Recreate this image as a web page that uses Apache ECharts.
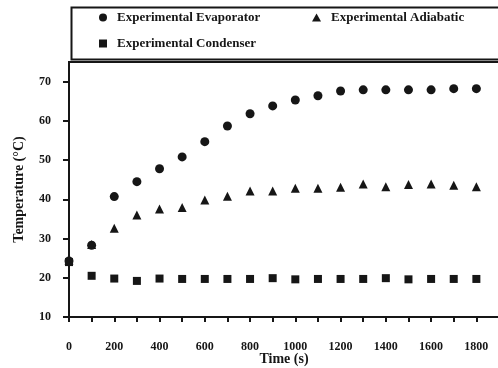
<!DOCTYPE html>
<html>
<head>
<meta charset="utf-8">
<script src="https://cdn.jsdelivr.net/npm/echarts@6/dist/echarts.min.js"></script>
<style>html,body{margin:0;padding:0;background:#fff}#c{width:498px;height:368px}</style>
</head>
<body>
<div id="c"></div>
<script>
var times = [0,100,200,300,400,500,600,700,800,900,1000,1100,1200,1300,1400,1500,1600,1700,1800];
var evaporator = [24.3,28.3,40.7,44.5,47.8,50.8,54.7,58.7,61.8,63.8,65.3,66.4,67.6,67.9,67.9,67.9,67.9,68.2,68.2];
var adiabatic = [24.5,28.5,32.6,36.0,37.5,37.9,39.8,40.8,42.1,42.1,42.8,42.8,43.1,43.9,43.2,43.8,43.9,43.6,43.2];
var condenser = [24.0,20.5,19.8,19.2,19.8,19.7,19.7,19.7,19.7,19.9,19.6,19.7,19.7,19.7,19.9,19.6,19.7,19.7,19.7];
var xTickValues = [0,100,200,300,400,500,600,700,800,900,1000,1100,1200,1300,1400,1500,1600,1700,1800];
var xLabelValues = [0,200,400,600,800,1000,1200,1400,1600,1800];
var yTickValues = [10,20,30,40,50,60,70];
var seriesNames = ['Experimental Evaporator','Experimental Adiabatic','Experimental Condenser'];

function pairs(v){ return times.map(function(t,i){ return [t, v[i]]; }); }

var font = '"Liberation Serif", "Times New Roman", serif';
var ink = '#161616';
var legendText = {fontFamily: font, fontWeight: 'bold', fontSize: 13, color: ink, padding: [0,0,0,5]};
var markStyle = {color: ink, opacity: 1, borderWidth: 0};

var chart = echarts.init(document.getElementById('c'), null, {renderer: 'canvas'});
chart.setOption({
  backgroundColor: '#fff',
  animation: false,
  graphic: [{
    type: 'rect', left: 69, top: 5,
    shape: {x: 0, y: 0, width: 428, height: 52},
    style: {fill: 'none', stroke: ink, lineWidth: 2}
  }],
  legend: [
    {data: [seriesNames[0]], left: 99, top: 11, padding: 0, itemWidth: 8, itemHeight: 8, itemStyle: {opacity: 1}, textStyle: legendText},
    {data: [seriesNames[1]], left: 312, top: 11, padding: 0, itemWidth: 9, itemHeight: 8, itemStyle: {opacity: 1}, textStyle: legendText},
    {data: [seriesNames[2]], left: 99, top: 37, padding: 0, itemWidth: 8, itemHeight: 8, itemStyle: {opacity: 1}, textStyle: legendText}
  ],
  grid: {left: 69, top: 62, right: -1, bottom: 51, show: true, borderColor: ink, borderWidth: 2,
    containLabel: false, outerBoundsMode: 'none'},
  xAxis: {
    type: 'value', min: 0, max: 1900,
    name: 'Time (s)', nameLocation: 'middle', nameGap: 35, nameMoveOverlap: false,
    nameTextStyle: {fontFamily: font, fontWeight: 'bold', fontSize: 14, color: ink},
    axisLine: {show: true, lineStyle: {color: ink, width: 2}},
    axisTick: {show: true, length: 5, lineStyle: {color: ink, width: 2}, customValues: xTickValues},
    axisLabel: {margin: 24, fontFamily: font, fontWeight: 'bold', fontSize: 12, color: ink, customValues: xLabelValues,
      formatter: function(v){ return String(v); }},
    splitLine: {show: false}
  },
  yAxis: {
    type: 'value', min: 10, max: 75,
    name: 'Temperature (°C)', nameLocation: 'middle', nameGap: 43, nameMoveOverlap: false,
    nameTextStyle: {fontFamily: font, fontWeight: 'bold', fontSize: 14, color: ink},
    axisLine: {show: true, lineStyle: {color: ink, width: 2}},
    axisTick: {show: true, length: 6, lineStyle: {color: ink, width: 2}, customValues: yTickValues},
    axisLabel: {margin: 18, fontFamily: font, fontWeight: 'bold', fontSize: 12, color: ink, customValues: yTickValues,
      formatter: function(v){ return String(v); }},
    splitLine: {show: false}
  },
  series: [
    {name: seriesNames[2], type: 'scatter', symbol: 'rect', symbolSize: 8, itemStyle: markStyle, data: pairs(condenser), z: 2},
    {name: seriesNames[1], type: 'scatter', symbol: 'triangle', symbolSize: 9, itemStyle: markStyle, data: pairs(adiabatic), z: 3},
    {name: seriesNames[0], type: 'scatter', symbol: 'circle', symbolSize: 9, itemStyle: markStyle, data: pairs(evaporator), z: 4}
  ]
});
</script>
</body>
</html>
